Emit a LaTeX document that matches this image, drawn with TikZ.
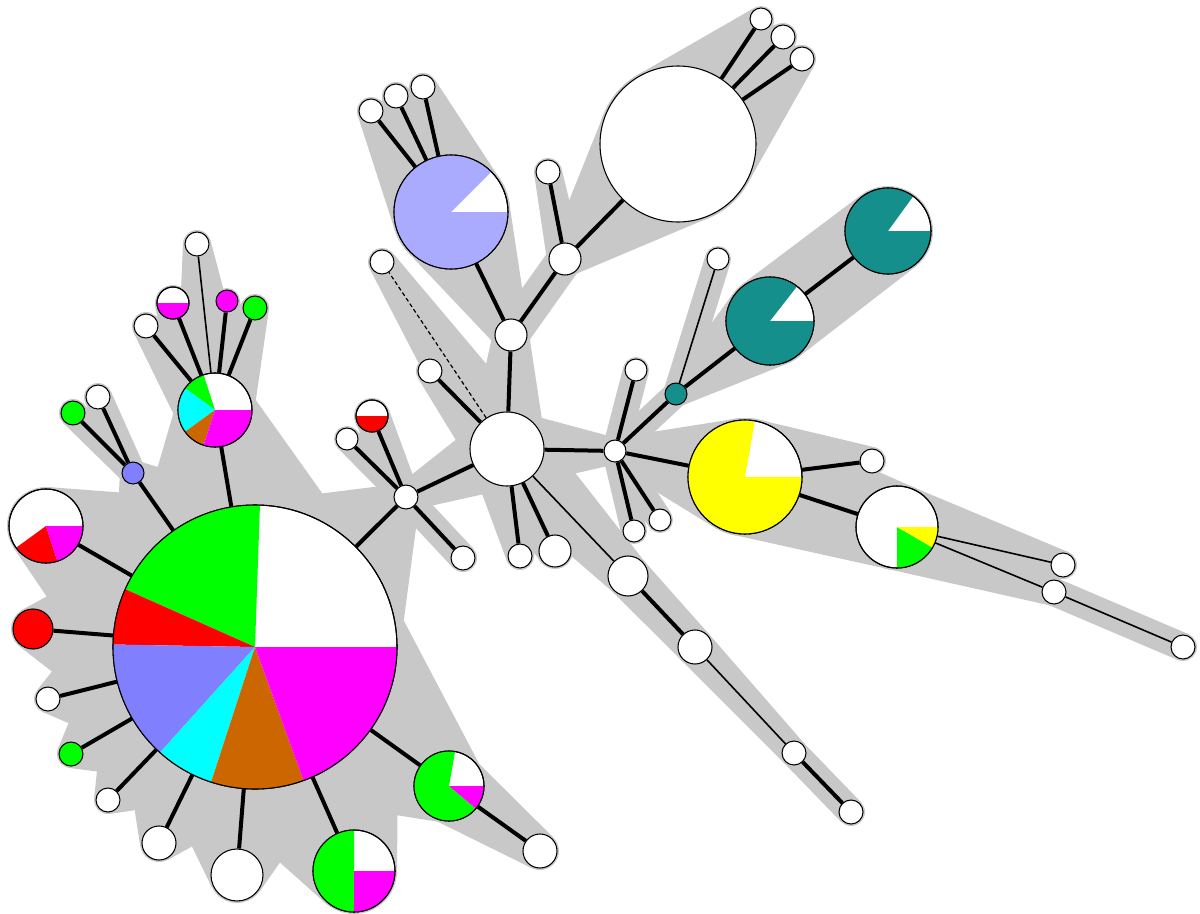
\documentclass[tikz,border=0pt]{standalone}
\usetikzlibrary{calc}
\pgfdeclarelayer{background}
\pgfsetlayers{background,main}

\definecolor{shadegray}{RGB}{200,200,200}
\definecolor{pgreen}{RGB}{0,255,0}
\definecolor{pred}{RGB}{255,0,0}
\definecolor{pmagenta}{RGB}{255,0,255}
\definecolor{pcyan}{RGB}{0,255,255}
\definecolor{pbrown}{RGB}{204,102,0}
\definecolor{pslate}{RGB}{128,128,255}
\definecolor{plight}{RGB}{170,170,255}
\definecolor{pteal}{RGB}{21,143,140}
\definecolor{pyellow}{RGB}{255,255,0}

% grey band round two circles (radii in px)
\newcommand{\hull}[4]{%
  \fill[shadegray] let \p1=(#1.center), \p2=(#3.center),
      \n1={atan2(\y2-\y1,\x2-\x1)},
      \n2={veclen(\x2-\x1,\y2-\y1)},
      \n3={acos(((#2)-(#4))*0.75/\n2)}
    in ($(#1.center)+({\n1+\n3}:{(#2+2)*0.75pt})$) -- ($(#3.center)+({\n1+\n3}:{(#4+2)*0.75pt})$)
    -- ($(#3.center)+({\n1-\n3}:{(#4+2)*0.75pt})$) -- ($(#1.center)+({\n1-\n3}:{(#2+2)*0.75pt})$) -- cycle;
  \fill[shadegray] (#1.center) circle[radius={(#2+2)*0.75pt}];
  \fill[shadegray] (#3.center) circle[radius={(#4+2)*0.75pt}];
}
% pie slice: node, radius px, from, to, colour
\newcommand{\slice}[5]{%
  \fill[#5] (#1.center) -- ++({-(#3)}:{#2*0.75pt}) arc[start angle={-(#3)}, end angle={-(#4)}, radius={#2*0.75pt}] -- cycle;
}
\newcommand{\rim}[2]{\draw[line width=0.8pt] (#1.center) circle[radius={#2*0.75pt}];}

\begin{document}
\begin{tikzpicture}[x=0.75pt,y=0.75pt,yscale=-1,xscale=1,
  nd/.style={circle,draw,line width=0.8pt,fill=white,inner sep=0pt,minimum size={1.5pt*#1}},
  link/.style={line width=3pt},
  thinlink/.style={line width=1.2pt},
  dashlink/.style={line width=0.9pt,dash pattern=on 3pt off 2pt}]
\useasboundingbox (0,0) rectangle (1200,914);

% big pie and its leaves
\node[nd=142] (big) at (255,647) {};
\node[nd=37] (pa) at (46,526) {};
\node[nd=20,fill=pred] (lr) at (33,629) {};
\node[nd=12] (l1) at (48,699) {};
\node[nd=12,fill=pgreen] (lg) at (71,754) {};
\node[nd=12] (l2) at (108,800) {};
\node[nd=17] (l3) at (159,843) {};
\node[nd=26] (l4) at (237,875) {};
\node[nd=41] (pb) at (354,871) {};
\node[nd=35] (pc) at (449,786) {};
\node[nd=17] (l5) at (540,851) {};
\node[nd=11,fill=pslate] (bs) at (133,473) {};
\node[nd=12,fill=pgreen] (gs) at (73,413) {};
\node[nd=12] (ws) at (98,397) {};
\node[nd=37] (pd) at (215,410) {};
\node[nd=12] (t1) at (197,244) {};
\node[nd=16] (hm) at (173,303) {};
\node[nd=12] (t2) at (146,326) {};
\node[nd=11,fill=pmagenta] (mm) at (227,301) {};
\node[nd=12,fill=pgreen] (mg) at (255,308) {};

% middle hub
\node[nd=12] (n1) at (406,497) {};
\node[nd=16] (hr) at (372,416) {};
\node[nd=11] (n2) at (347,439) {};
\node[nd=12] (n3) at (463,558) {};
\node[nd=37] (hub) at (507,449) {};
\node[nd=12] (h1) at (430,371) {};
\node[nd=12] (h2) at (382,262) {};
\node[nd=16] (u1) at (511,335) {};
\node[nd=57] (pe) at (451,212) {};
\node[nd=12] (e1) at (371,111) {};
\node[nd=12] (e2) at (396,96) {};
\node[nd=12] (e3) at (423,87) {};
\node[nd=16] (u2) at (565,259) {};
\node[nd=12] (u3) at (548,172) {};
\node[nd=78] (bw) at (678,144) {};
\node[nd=11] (w1) at (761,19) {};
\node[nd=12] (w2) at (783,37) {};
\node[nd=12] (w3) at (802,59) {};
\node[nd=12] (h3) at (520,556) {};
\node[nd=16] (h4) at (555,551) {};
\node[nd=20] (c1) at (628,576) {};
\node[nd=17] (c2) at (695,647) {};
\node[nd=12] (c3) at (794,753) {};
\node[nd=12] (c4) at (851,812) {};

% right side
\node[nd=11] (hb) at (615,451) {};
\node[nd=11] (r1) at (636,370) {};
\node[nd=11,fill=pteal] (ts) at (676,394) {};
\node[nd=11] (r2) at (718,259) {};
\node[nd=44] (pt) at (770,321) {};
\node[nd=43] (pu) at (888,231) {};
\node[nd=11] (r3) at (634,531) {};
\node[nd=11] (r4) at (660,520) {};
\node[nd=57] (py) at (745,477) {};
\node[nd=12] (r5) at (872,461) {};
\node[nd=41] (pf) at (897,527) {};
\node[nd=12] (f1) at (1063,565) {};
\node[nd=12] (f2) at (1054,592) {};
\node[nd=12] (f3) at (1183,647) {};

% links
\foreach \a/\b in {big/pa,big/lr,big/l1,big/lg,big/l2,big/l3,big/l4,big/pb,big/pc,pc/l5,
    big/bs,bs/gs,bs/ws,big/pd,pd/hm,pd/t2,pd/mm,pd/mg,big/n1,n1/hr,n1/n2,n1/n3,n1/hub,
    hub/h1,hub/u1,u1/pe,pe/e1,pe/e2,pe/e3,u1/u2,u2/u3,u2/bw,bw/w1,bw/w2,bw/w3,
    hub/h3,hub/h4,c1/c2,c3/c4,hub/hb,hb/r1,hb/ts,ts/pt,pt/pu,hb/r3,hb/r4,hb/py,py/r5,py/pf}
  \draw[link] (\a) -- (\b);
\foreach \a/\b in {pd/t1,hub/c1,c2/c3,ts/r2,pf/f1,pf/f2,f2/f3}
  \draw[thinlink] (\a) -- (\b);
\draw[dashlink] (hub) -- (h2);

% grey bands
\begin{pgfonlayer}{background}
\foreach \a/\ra/\b/\rb in {big/142/pa/37,big/142/lr/20,big/142/l1/12,big/142/lg/12,big/142/l2/12,
    big/142/l3/17,big/142/l4/26,big/142/pb/41,big/142/pc/35,pc/35/l5/17,big/142/bs/11,bs/11/gs/12,
    bs/11/ws/12,big/142/pd/37,pd/37/t1/12,pd/37/hm/16,pd/37/t2/12,pd/37/mm/11,pd/37/mg/12,
    big/142/n1/12,n1/12/hr/16,n1/12/n2/11,n1/12/n3/12,hub/37/n1/12,hub/37/h1/12,hub/37/h2/12,
    hub/37/u1/16,pe/57/u1/16,pe/57/e1/12,pe/57/e2/12,pe/57/e3/12,u2/16/u1/16,u2/16/u3/12,
    bw/78/u2/16,bw/78/w1/11,bw/78/w2/12,bw/78/w3/12,hub/37/h3/12,hub/37/h4/16,hub/37/c1/20,
    c1/20/c2/17,c2/17/c3/12,c3/12/c4/12,hub/37/hb/11,hb/11/r1/11,hb/11/ts/11,ts/11/r2/11,
    pt/44/ts/11,pu/43/pt/44,hb/11/r3/11,hb/11/r4/11,py/57/hb/11,py/57/r5/12,py/57/pf/41,
    pf/41/f1/12,pf/41/f2/12,f2/12/f3/12}
  {\hull{\a}{\ra}{\b}{\rb}}
\end{pgfonlayer}

% pie slices
\slice{big}{142}{88}{156}{pgreen}
\slice{big}{142}{156}{179}{pred}
\slice{big}{142}{179}{228}{pslate}
\slice{big}{142}{228}{252}{pcyan}
\slice{big}{142}{252}{290}{pbrown}
\slice{big}{142}{290}{360}{pmagenta}
\rim{big}{142}
\slice{pa}{37}{216}{288}{pred}
\slice{pa}{37}{288}{360}{pmagenta}
\rim{pa}{37}
\slice{pb}{41}{90}{270}{pgreen}
\slice{pb}{41}{270}{360}{pmagenta}
\rim{pb}{41}
\slice{pc}{35}{80}{320}{pgreen}
\slice{pc}{35}{320}{360}{pmagenta}
\rim{pc}{35}
\slice{pd}{37}{108}{144}{pgreen}
\slice{pd}{37}{144}{216}{pcyan}
\slice{pd}{37}{216}{252}{pbrown}
\slice{pd}{37}{252}{360}{pmagenta}
\rim{pd}{37}
\slice{hm}{16}{180}{360}{pmagenta}
\rim{hm}{16}
\slice{hr}{16}{180}{360}{pred}
\rim{hr}{16}
\slice{pe}{57}{45}{360}{plight}
\rim{pe}{57}
\slice{pt}{44}{52}{360}{pteal}
\rim{pt}{44}
\slice{pu}{43}{54}{360}{pteal}
\rim{pu}{43}
\slice{py}{57}{80}{360}{pyellow}
\rim{py}{57}
\slice{pf}{41}{270}{330}{pgreen}
\slice{pf}{41}{330}{360}{pyellow}
\rim{pf}{41}
\end{tikzpicture}
\end{document}
